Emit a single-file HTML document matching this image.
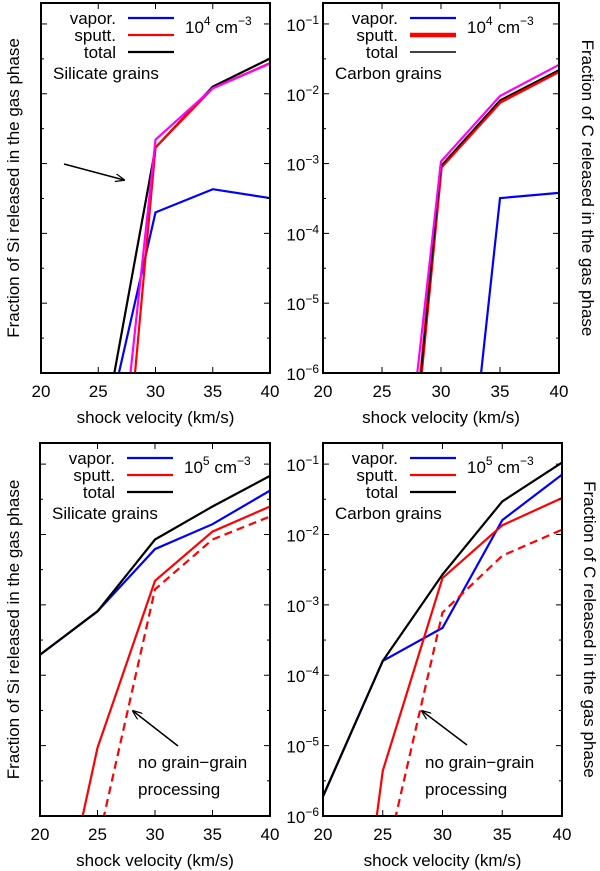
<!DOCTYPE html>
<html><head><meta charset="utf-8"><style>
html,body{margin:0;padding:0;background:#fff;overflow:hidden;width:600px;height:871px;}
svg{display:block;font-family:"Liberation Sans",sans-serif;}
</style></head><body>
<svg id="fig" width="600" height="871" viewBox="0 0 600 871"></svg>
<script>
// Shared data
const velocities = [20, 25, 30, 35, 40];
const xTicks = [20, 25, 30, 35, 40];
const yTickExps = [-1, -2, -3, -4, -5, -6];

// Panel A: Si, 1e4 cm^-3 (values at 20,25,30,35,40)
const siLowTotal   = [1e-12, 5.5e-8, 1.7e-3, 1.26e-2, 3.2e-2];
const siLowSputt   = [1e-20, 1.6e-12, 1.7e-3, 1.2e-2, 2.75e-2];
const siLowAlt     = [1e-18, 5e-11, 2.2e-3, 1.2e-2, 2.7e-2];
const siLowVapor   = [1e-12, 5e-8, 2.0e-4, 4.3e-4, 3.2e-4];
// Panel B: C, 1e4 cm^-3
const cLowTotal    = [1e-20, 1.6e-12, 9.3e-4, 8.1e-3, 2.2e-2];
const cLowSputt    = [1e-20, 1.6e-12, 8.9e-4, 7.6e-3, 2.1e-2];
const cLowAlt      = [1e-18, 3e-11, 1.07e-3, 9.3e-3, 2.6e-2];
const cLowVapor    = [1e-30, 1e-20, 5e-12, 3.2e-4, 3.8e-4];
// Panel C: Si, 1e5 cm^-3
const siHighTotal  = [1.95e-4, 8.1e-4, 8.5e-3, 2.5e-2, 6.8e-2];
const siHighVapor  = [1.95e-4, 8.1e-4, 6.2e-3, 1.4e-2, 4.2e-2];
const siHighSputt  = [1.6e-9, 9.3e-6, 2.2e-3, 1.1e-2, 2.5e-2];
const siHighNoGG   = [1e-10, 3.9e-7, 1.66e-3, 8.5e-3, 1.8e-2];
// Panel D: C, 1e5 cm^-3
const cHighTotal   = [1.9e-6, 1.6e-4, 2.7e-3, 2.95e-2, 1.05e-1];
const cHighVapor   = [1.9e-6, 1.6e-4, 4.7e-4, 1.6e-2, 7.1e-2];
const cHighSputt   = [1.6e-12, 4.4e-6, 2.4e-3, 1.35e-2, 3.3e-2];
const cHighNoGG    = [3e-11, 1.55e-7, 7.8e-4, 5e-3, 1.17e-2];

const NS = "http://www.w3.org/2000/svg";
const svg = document.getElementById('fig');
const FS = 17;
function mk(tag, attrs, parent, text){
  const e = document.createElementNS(NS, tag);
  for (const k in attrs) e.setAttribute(k, attrs[k]);
  if (text !== undefined) e.textContent = text;
  (parent || svg).appendChild(e);
  return e;
}
const FLOOR = -6.05;
// clip polyline (v, logValue) to logValue >= FLOOR, returning list of subpaths
function clipLine(vs, logs){
  const parts = []; let cur = [];
  for (let i = 0; i < vs.length; i++){
    const inside = logs[i] >= FLOOR;
    if (i > 0){
      const pin = logs[i-1] >= FLOOR;
      if (pin !== inside){
        const t = (FLOOR - logs[i-1]) / (logs[i] - logs[i-1]);
        const vx = vs[i-1] + t * (vs[i] - vs[i-1]);
        cur.push([vx, FLOOR]);
        if (pin){ parts.push(cur); cur = []; }
      }
    }
    if (inside) cur.push([vs[i], logs[i]]);
  }
  if (cur.length) parts.push(cur);
  return parts.filter(p => p.length > 1);
}
let clipId = 0;
function panel(p){
  const g = mk('g', {});
  
  
  const xs = v => p.x0 + (v - 20) / 20 * (p.x1 - p.x0);
  const ymax = -0.7, ymin = -6;
  const ye = e => p.y0 + (ymax - e) / (ymax - ymin) * (p.y1 - p.y0);
  const ys = val => ye(Math.log10(val));
  clipId++;
  const cp = mk('clipPath', {id: 'c' + clipId}, g);
  mk('rect', {x: p.x0, y: p.y0, width: p.x1 - p.x0, height: p.y1 - p.y0}, cp);
  const sg = mk('g', {'clip-path': 'url(#c' + clipId + ')'}, g);
  p.series.forEach(s => {
    const parts = clipLine(velocities, s.data.map(v => Math.log10(v)));
    const d = parts.map(pt => pt.map((q, i) => (i ? 'L' : 'M') + xs(q[0]).toFixed(1) + ',' + ye(q[1]).toFixed(1)).join(' ')).join(' ');
    const path = mk('path', {d: d, fill: 'none', stroke: s.color, 'stroke-width': s.w || 2.2, 'stroke-dasharray': s.dash || 'none', 'stroke-linejoin': 'miter'}, sg);
    
    
  });
  const tg = mk('g', {stroke: '#000', 'stroke-width': 1}, g);
  xTicks.forEach(t => {
    const x = xs(t);
    mk('line', {x1: x, y1: p.y1, x2: x, y2: p.y1 - 6}, tg);
    mk('line', {x1: x, y1: p.y0, x2: x, y2: p.y0 + 6}, tg);
    const lb = mk('text', {x: x, y: p.y1 + 24, 'text-anchor': 'middle', 'font-size': FS}, g, String(t));
    
    
  });
  yTickExps.forEach(e => {
    const y = ye(e);
    mk('line', {x1: p.x0, y1: y, x2: p.x0 + 6, y2: y}, tg);
    mk('line', {x1: p.x1, y1: y, x2: p.x1 - 6, y2: y}, tg);
    const ym = ye(e + 0.5);
    if (ym > p.y0) {
      mk('line', {x1: p.x0, y1: ym, x2: p.x0 + 3, y2: ym}, tg);
      mk('line', {x1: p.x1, y1: ym, x2: p.x1 - 3, y2: ym}, tg);
    }
    if (p.yLabels) {
      const lb = mk('text', {x: p.x0 - 4, y: y + 7, 'text-anchor': 'end', 'font-size': FS}, g);
      
      
      mk('tspan', {}, lb, '10');
      mk('tspan', {dy: -7, 'font-size': 12}, lb, '\u2212' + (-e));
    }
  });
  const fr = mk('rect', {x: p.x0, y: p.y0, width: p.x1 - p.x0, height: p.y1 - p.y0, fill: 'none', stroke: '#000', 'stroke-width': 2}, g);
  
  
  const xt = mk('text', {x: (p.x0 + p.x1) / 2, y: p.y1 + 50, 'text-anchor': 'middle', 'font-size': FS}, g, 'shock velocity (km/s)');
  
  
  const yc = (p.y0 + p.y1) / 2;
  const yt = mk('text', {x: p.ytx, y: yc, 'text-anchor': 'middle', 'font-size': FS,
    transform: 'rotate(' + p.yrot + ' ' + p.ytx + ' ' + yc + ')'}, g, p.ytitle);
  
  
  const lg = mk('g', {}, g);
  
  
  const lx = p.x0 + 75;
  p.legend.forEach((L, i) => {
    const y = p.y0 + 15 + i * 17;
    const t = mk('text', {x: lx, y: y + 6, 'text-anchor': 'end', 'font-size': FS}, lg, L.label);
    
    
    mk('line', {x1: lx + 12, y1: y, x2: lx + 58, y2: y, stroke: L.color, 'stroke-width': L.w || 2.2}, lg);
  });
  const dn = mk('text', {x: p.x0 + 144, y: p.y0 + 30, 'font-size': FS}, lg);
  
  
  mk('tspan', {}, dn, '10');
  mk('tspan', {dy: -8, 'font-size': 12}, dn, p.dens);
  mk('tspan', {dy: 8}, dn, ' cm');
  mk('tspan', {dy: -8, 'font-size': 12}, dn, '\u22123');
  const gt = mk('text', {x: p.x0 + 12, y: p.y0 + 76, 'font-size': FS}, lg, p.grain);
  
  
  return {g, xs, ys};
}
const legStd = [{label:'vapor.', color:'#0000ff'},{label:'sputt.', color:'#ff0000'},{label:'total', color:'#000'}];
const legTR = [{label:'vapor.', color:'#0000ff'},{label:'sputt.', color:'#ff0000', w:4.5},{label:'total', color:'#000', w:1.5}];

panel({name:'panel-si-1e4', x0:41, x1:270, y0:3, y1:373, yLabels:false, ytx:19, yrot:-90,
  ytitle:'Fraction of Si released in the gas phase', dens:'4', grain:'Silicate grains', legend:legStd,
  series:[{name:'vapor-line',data:siLowVapor,color:'#0000ff'},
          {name:'total-line',data:siLowTotal,color:'#000'},
          {name:'sputt-line',data:siLowSputt,color:'#ff0000'},
          {name:'sputt-alt-line',data:siLowAlt,color:'#ff00ff'}]});
panel({name:'panel-c-1e4', x0:323, x1:559, y0:3, y1:373, yLabels:true, ytx:582, yrot:90,
  ytitle:'Fraction of C released in the gas phase', dens:'4', grain:'Carbon grains', legend:legTR,
  series:[{name:'vapor-line',data:cLowVapor,color:'#0000ff'},
          {name:'sputt-line',data:cLowSputt,color:'#ff0000',w:3.5},
          {name:'total-line',data:cLowTotal,color:'#000',w:1.5},
          {name:'sputt-alt-line',data:cLowAlt,color:'#ff00ff'}]});
panel({name:'panel-si-1e5', x0:40, x1:270, y0:443, y1:816, yLabels:false, ytx:19, yrot:-90,
  ytitle:'Fraction of Si released in the gas phase', dens:'5', grain:'Silicate grains', legend:legStd,
  series:[{name:'vapor-line',data:siHighVapor,color:'#0000ff'},
          {name:'total-line',data:siHighTotal,color:'#000'},
          {name:'sputt-line',data:siHighSputt,color:'#ff0000'},
          {name:'no-grain-grain-line',data:siHighNoGG,color:'#ff0000',dash:'8,5'}]});
panel({name:'panel-c-1e5', x0:323, x1:562, y0:443, y1:816, yLabels:true, ytx:584, yrot:90,
  ytitle:'Fraction of C released in the gas phase', dens:'5', grain:'Carbon grains', legend:legStd,
  series:[{name:'vapor-line',data:cHighVapor,color:'#0000ff'},
          {name:'total-line',data:cHighTotal,color:'#000'},
          {name:'sputt-line',data:cHighSputt,color:'#ff0000'},
          {name:'no-grain-grain-line',data:cHighNoGG,color:'#ff0000',dash:'8,5'}]});

const defs = mk('defs', {});
const mkr = mk('marker', {id:'ah', markerWidth:10, markerHeight:8, refX:9, refY:4, orient:'auto', markerUnits:'userSpaceOnUse'}, defs);
mk('path', {d:'M0,0 L10,4 L0,8', fill:'none', stroke:'#000', 'stroke-width':1.2}, mkr);
function arrow(x1,y1,x2,y2){
  const a = mk('line', {x1,y1,x2,y2, stroke:'#000','stroke-width':1.5,'marker-end':'url(#ah)'});
  
  
}
arrow(64,164,124,180);
arrow(178,746,133,711);
arrow(467,745,422,711);
function note(x,y1,y2){
  const t1 = mk('text', {x:x, y:y1, 'font-size':FS}, svg, 'no grain\u2212grain');
  
  
  const t2 = mk('text', {x:x, y:y2, 'font-size':FS}, svg, 'processing');
  
  
}
note(138,768,795);
note(425,768,795);
</script>
</body></html>
